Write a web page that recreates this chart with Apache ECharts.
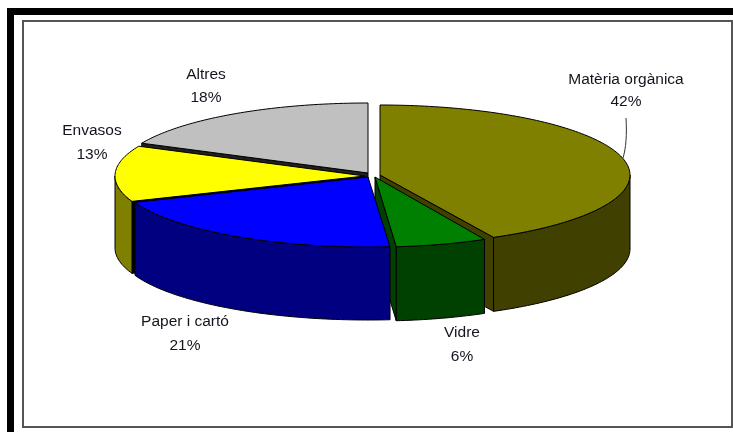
<!DOCTYPE html>
<html lang="ca">
<head>
    <meta charset="UTF-8">
    <title>Residus</title>
    <script src="https://cdn.jsdelivr.net/npm/echarts@6/dist/echarts.min.js"></script>
    <style>
        *{margin:0;padding:0;box-sizing:border-box;}
        html,body{width:733px;height:432px;background:#fff;overflow:hidden;}
        #main{width:733px;height:432px;}
    </style>
</head>
<body>
    <div id="main"></div>
    <script>
        // data (slices run clockwise from 12 o'clock)
        var categories=["Matèria orgànica","Vidre","Paper i cartó","Envasos","Altres"]
        var values=[42.49,6.1,20.5,12.9,18.0]

        // colours
        var topColors=["#808000","#008000","#0000ff","#ffff00","#c0c0c0"]
        var sideColors=["#404000","#004000","#000080","#808000","#606060"]
        var cutColors=["#404000","#004000","#000080","#000000","#202020"]

        // layout of the exploded 3d pie
        var radiiX=[250,241,250,250,250]
        var ry=70
        var depths=[74,74,73,72,74]
        var centers=[[380,175],[375,177],[368,177],[365,176],[368,173]]
        var labelPos=[[626,80,102],[462,333,357],[185,322,346],[92,131,155],[206,75,98]]
        var paintRank=[1,3,4,2,0]//back to front

        var total=values.reduce(function(a,b){return a+b},0)
        var starts=[]
        values.reduce(function(sum,v,i){starts[i]=sum;return sum+v},0)

        function toAngle(v){return v/total*Math.PI*2-Math.PI/2}
        function rimPoint(i,t,dy){
            var c=centers[i]
            return [c[0]+radiiX[i]*Math.cos(t),c[1]+ry*Math.sin(t)+(dy||0)]
        }
        function arc(i,t0,t1,dy){
            var pts=[],n=Math.max(2,Math.ceil((t1-t0)/0.02))
            for(var k=0;k<=n;k++){pts.push(rimPoint(i,t0+(t1-t0)*k/n,dy))}
            return pts
        }
        function poly(points,fill,z2){
            return {type:"polygon",z2:z2,shape:{points:points},style:{fill:fill,stroke:"#000",lineWidth:1}}
        }
        function label(text,x,y){
            return {type:"text",z2:50,style:{text:text,x:x,y:y,fill:"#14141e",align:"center",verticalAlign:"middle",
                textAlign:"center",textVerticalAlign:"middle",font:"15.5px 'Liberation Sans', Arial, sans-serif"}}
        }

        function renderSlice(params,api){
            var i=params.dataIndex
            var v=api.value(0)
            var c=centers[i],depth=depths[i]
            var t0=toAngle(starts[i]),t1=toAngle(starts[i]+v)
            var z=paintRank[i]*4+1
            var kids=[]
            var a=[c[0],c[1]],b=[c[0],c[1]+depth]
            // cut faces that look towards the viewer
            if(Math.cos(t0)<0){
                kids.push(poly([a,rimPoint(i,t0),rimPoint(i,t0,depth),b],cutColors[i],z))
            }
            if(Math.cos(t1)>0){
                kids.push(poly([a,rimPoint(i,t1),rimPoint(i,t1,depth),b],cutColors[i],z))
            }
            // outer wall, only the front half of the rim
            var w0=Math.max(t0,0),w1=Math.min(t1,Math.PI)
            if(w1>w0){
                kids.push(poly(arc(i,w0,w1,0).concat(arc(i,w0,w1,depth).reverse()),sideColors[i],z+1))
            }
            // top face
            kids.push(poly([a].concat(arc(i,t0,t1,0)),topColors[i],z+2))
            // labels
            var p=labelPos[i]
            kids.push(label(categories[i],p[0],p[1]))
            kids.push(label(Math.round(v)+"%",p[0],p[2]))
            if(i===0){//leader line of the first label
                kids.push({type:"bezierCurve",z2:50,shape:{x1:626,y1:118,x2:623,y2:158,cpx1:627,cpy1:135,cpx2:626,cpy2:148},
                    style:{fill:"none",stroke:"#333",lineWidth:1}})
            }
            return {type:"group",children:kids}
        }

        var myCharts=echarts.init(document.getElementById("main"),null,{renderer:"canvas"})
        var option={
            animation:false,
            backgroundColor:"#fff",
            graphic:[
                // black band of the scanned frame
                {type:"rect",shape:{x:7,y:8,width:726,height:7},style:{fill:"#000"}},
                {type:"rect",shape:{x:7,y:8,width:7,height:424},style:{fill:"#000"}},
                // thin chart border
                {type:"rect",shape:{x:23,y:21,width:709,height:406},style:{fill:"none",stroke:"#555",lineWidth:2}}
            ],
            series:[{
                type:"custom",
                coordinateSystem:"none",
                silent:true,
                renderItem:renderSlice,
                data:values.map(function(v){return [v]})
            }]
        }
        myCharts.setOption(option)
    </script>
</body>
</html>
